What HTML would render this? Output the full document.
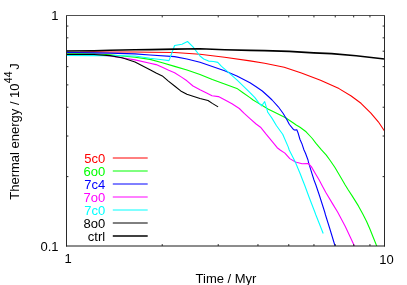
<!DOCTYPE html>
<html><head><meta charset="utf-8"><title>Thermal energy</title>
<style>html,body{margin:0;padding:0;background:#fff;}body{width:407px;height:285px;position:relative;overflow:hidden;font-family:"Liberation Sans",sans-serif;}</style>
</head><body>
<svg width="407" height="285" viewBox="0 0 407 285" style="position:absolute;left:0;top:0;will-change:transform">
<clipPath id="c"><rect x="66.5" y="15.5" width="318.0" height="230.5"/></clipPath>
<g clip-path="url(#c)" fill="none" stroke-linejoin="round" stroke-linecap="butt">
<polyline points="66.5,52.5 80.0,52.4 94.0,51.9 110.0,52.0 135.0,52.0 150.0,52.3 174.6,52.5 200.0,54.2 224.6,57.2 250.0,60.9 264.6,63.2 284.2,67.3 301.4,73.0 320.5,80.2 339.0,88.6 351.2,96.0 361.0,103.3 370.9,113.2 378.3,121.8 384.5,131.0" stroke="#ff0000" stroke-width="1.1"/>
<polyline points="66.5,53.5 94.0,53.8 110.0,54.7 135.0,57.2 150.0,59.4 162.3,62.7 174.6,66.4 187.0,70.0 200.0,74.4 212.3,79.6 224.6,84.1 236.9,88.4 243.0,92.7 250.0,97.6 253.1,100.0 257.4,102.6 262.3,105.5 268.4,109.2 274.6,112.3 285.6,117.8 293.0,122.7 296.2,125.0 300.0,127.2 306.1,131.8 310.0,136.0 312.3,138.5 316.0,143.4 321.5,149.8 326.3,155.1 330.0,160.2 334.8,167.3 341.0,177.7 345.2,185.0 348.3,190.0 352.3,196.1 358.4,205.9 362.8,214.0 366.5,221.2 370.0,229.3 373.4,237.8 376.8,246.2" stroke="#00ff00" stroke-width="1.1"/>
<polyline points="66.5,52.5 94.0,52.9 110.0,53.1 135.0,53.9 150.0,55.0 174.6,56.6 186.9,59.0 200.0,62.2 212.3,66.4 224.6,70.7 236.9,76.1 250.0,82.7 256.1,86.7 262.3,91.0 268.4,96.5 272.1,100.0 278.3,106.8 283.2,113.5 286.9,119.7 289.4,124.5 293.4,129.4 294.8,130.1 296.8,129.7 298.1,133.0 300.0,139.5 301.8,143.4 304.0,150.0 305.5,153.3 308.0,160.0 308.5,162.3 311.9,173.3 314.0,180.0 315.9,185.0 319.6,196.0 324.7,212.0 325.5,215.0 329.6,228.0 334.9,245.5 335.1,246.2" stroke="#0000ff" stroke-width="1.1"/>
<polyline points="66.5,54.4 94.0,54.8 110.0,56.0 135.0,59.9 150.0,63.3 156.1,64.6 162.3,67.3 168.7,70.3 174.6,72.7 181.9,77.4 186.9,80.8 193.0,86.0 200.0,89.7 206.1,92.7 212.0,95.7 218.4,96.6 224.6,99.7 232.0,103.8 239.3,108.5 244.2,113.4 250.0,118.6 256.1,124.0 260.5,127.2 266.1,134.2 272.3,141.6 277.2,147.7 280.5,150.3 284.9,153.1 289.8,158.6 295.4,162.0 302.1,163.8 308.3,163.5 311.3,166.6 315.6,174.0 319.2,180.0 321.8,185.0 325.7,192.3 333.1,204.6 337.6,212.0 339.2,215.0 345.3,226.4 354.2,245.5 354.5,246.2" stroke="#ff00ff" stroke-width="1.1"/>
<polyline points="66.5,55.5 94.0,55.6 110.0,55.5 135.0,56.0 150.0,58.2 162.3,59.7 169.0,60.6 174.6,45.5 182.0,44.3 187.5,41.5 193.0,46.8 200.0,56.0 203.7,59.0 208.6,61.1 213.5,61.5 217.8,62.4 221.5,66.4 226.2,70.3 236.9,79.8 250.0,92.6 254.9,97.7 258.6,102.6 261.7,105.8 264.7,101.6 266.6,108.2 267.8,112.3 272.1,118.4 276.5,125.7 282.7,134.2 288.3,147.1 289.2,150.0 294.4,160.3 295.4,162.3 300.3,174.0 302.6,180.0 304.6,185.0 309.1,197.2 314.8,212.0 315.9,215.0 323.2,233.5" stroke="#00ffff" stroke-width="1.1"/>
<polyline points="66.5,54.5 94.0,54.5 110.0,55.6 122.0,57.8 135.0,61.9 150.0,69.7 156.1,73.1 162.3,75.9 168.4,81.1 174.6,86.0 180.7,90.9 186.9,94.3 193.0,96.2 200.0,98.5 208.0,100.5 212.3,103.4 218.1,106.9" stroke="#000000" stroke-width="1.1"/>
<polyline points="66.5,51.0 94.0,50.7 110.0,50.2 135.0,49.8 150.0,49.6 175.0,49.1 200.0,48.8 224.6,49.8 250.0,50.4 264.6,50.6 289.1,51.4 313.7,52.9 331.6,53.6 356.1,55.8 384.5,59.0" stroke="#000000" stroke-width="1.6"/>
</g>
<g stroke="#2a2a2a" stroke-width="1" fill="none">
<path d="M66.5 15.0V246.5M384.5 15.0V246.5"/>
<path d="M66.0 15.5H385.0" stroke="#505050"/>
<path d="M66.0 246.0H385.0" stroke="#1a1a1a"/>
<path d="M162.23 246.0v-1.9M162.23 15.5v1.9"/>
<path d="M66.5 176.61h1.9M384.5 176.61h-1.9"/>
<path d="M218.22 246.0v-1.9M218.22 15.5v1.9"/>
<path d="M66.5 136.02h1.9M384.5 136.02h-1.9"/>
<path d="M257.96 246.0v-1.9M257.96 15.5v1.9"/>
<path d="M66.5 107.23h1.9M384.5 107.23h-1.9"/>
<path d="M288.77 246.0v-1.9M288.77 15.5v1.9"/>
<path d="M66.5 84.89h1.9M384.5 84.89h-1.9"/>
<path d="M313.95 246.0v-1.9M313.95 15.5v1.9"/>
<path d="M66.5 66.64h1.9M384.5 66.64h-1.9"/>
<path d="M335.24 246.0v-1.9M335.24 15.5v1.9"/>
<path d="M66.5 51.20h1.9M384.5 51.20h-1.9"/>
<path d="M353.68 246.0v-1.9M353.68 15.5v1.9"/>
<path d="M66.5 37.84h1.9M384.5 37.84h-1.9"/>
<path d="M369.95 246.0v-1.9M369.95 15.5v1.9"/>
<path d="M66.5 26.05h1.9M384.5 26.05h-1.9"/>
</g>
<g font-family="Liberation Sans, sans-serif" font-size="13px">
<text x="105.2" y="162.8" text-anchor="end" fill="#ff0000">5c0</text>
<path d="M112.8 158.0H147.7" stroke="#ff0000" stroke-width="1.0" fill="none"/>
<text x="105.2" y="175.8" text-anchor="end" fill="#00ff00">6o0</text>
<path d="M112.8 171.0H147.7" stroke="#00ff00" stroke-width="1.0" fill="none"/>
<text x="105.2" y="188.8" text-anchor="end" fill="#0000ff">7c4</text>
<path d="M112.8 184.0H147.7" stroke="#0000ff" stroke-width="1.0" fill="none"/>
<text x="105.2" y="201.8" text-anchor="end" fill="#ff00ff">7o0</text>
<path d="M112.8 197.0H147.7" stroke="#ff00ff" stroke-width="1.0" fill="none"/>
<text x="105.2" y="214.8" text-anchor="end" fill="#00ffff">7c0</text>
<path d="M112.8 210.0H147.7" stroke="#00ffff" stroke-width="1.0" fill="none"/>
<text x="105.2" y="227.8" text-anchor="end" fill="#000000">8o0</text>
<path d="M112.8 223.0H147.7" stroke="#000000" stroke-width="1.0" fill="none"/>
<text x="105.2" y="240.8" text-anchor="end" fill="#000000">ctrl</text>
<path d="M112.8 236.0H147.7" stroke="#000000" stroke-width="1.5" fill="none"/>
<text x="58.5" y="20.1" text-anchor="end" fill="#000">1</text>
<text x="58.6" y="250.55" text-anchor="end" fill="#000">0.1</text>
<text x="68" y="263.25" text-anchor="middle" fill="#000">1</text>
<text x="386.5" y="263.55" text-anchor="middle" fill="#000">10</text>
<text x="226" y="283.1" text-anchor="middle" fill="#000">Time / Myr</text>
<text transform="translate(18.7,131.5) rotate(-90)" text-anchor="middle" fill="#000">Thermal energy / 10<tspan dy="-6.3" dx="0.3" font-size="10.4px">44</tspan><tspan dy="6.3" dx="-1.8"> J</tspan></text>
</g>
</svg>
</body></html>
